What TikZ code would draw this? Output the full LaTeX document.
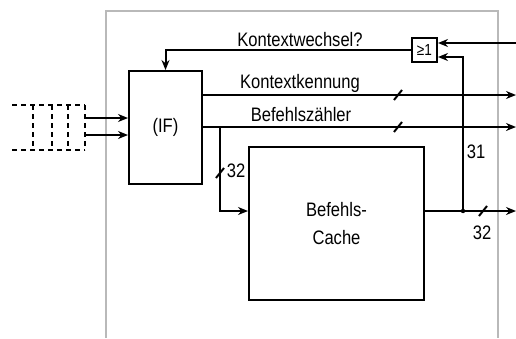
\documentclass[tikz,border=0pt]{standalone}
\usepackage{fontspec}
\setmainfont{Liberation Sans}[FakeStretch=0.85]
\usetikzlibrary{arrows.meta,calc}

\begin{document}
\begin{tikzpicture}[x=1pt,y=-1pt,>={Stealth[length=10pt,width=8pt]},
  every node/.style={align=center,font=\fontsize{19.5}{23}\selectfont},
  wire/.style={line width=2pt},
  blk/.style={draw,line width=2pt,inner sep=0pt}]
  \useasboundingbox (0,0) rectangle (516,338);
  % frame of the unit
  \draw[gray!55,line width=2pt] (106,338) -- (106,11) -- (498,11) -- (498,338);
  % blocks
  \node[blk,minimum width=73pt,minimum height=113pt] (ifu) at (165.5,127.5) {(IF)};
  \node[blk,minimum width=175pt,minimum height=153pt] (cache) at (336.5,223.5) {Befehls-\\[5pt]Cache};
  \node[blk,minimum width=25pt,minimum height=24pt,font=\fontsize{16}{18}\selectfont] (gate) at (424.5,50) {≥1};
  % queue of contexts
  \draw[wire,dash pattern=on 5pt off 4pt] (12,105) -- (85,105) (12,150) -- (85,150);
  \foreach \x in {33,52,68,85}
    \draw[wire,dash pattern=on 5pt off 4pt] (\x,105) -- (\x,150);
  \coordinate (q1) at (85,118);
  \coordinate (q2) at (85,135);
  \draw[wire,->] (q1) -- (q1 -| ifu.west);
  \draw[wire,->] (q2) -- (q2 -| ifu.west);
  % outputs of IF
  \coordinate (kkout) at (516,95);
  \coordinate (bzout) at (516,127);
  \coordinate (br) at (220,127);
  \draw[wire,->] (kkout -| ifu.east) -- (kkout);
  \draw[wire,->] (bzout -| ifu.east) -- (bzout);
  \draw[wire,->] (br) |- (cache.west |- 0,211);
  % cache output and feedback
  \coordinate (cout) at (516,211);
  \coordinate (jn) at (463,211);
  \coordinate (ctxin) at (516,43);
  \draw[wire,->] (cout -| cache.east) -- (cout);
  \fill (jn) circle (2.2pt);
  \draw[wire,->] (jn) |- (gate.east |- 0,57);
  \draw[wire,->] (ctxin) -- (ctxin -| gate.east);
  \draw[wire,->] (gate.west) -| (ifu.north);
  % bus widths
  \draw[wire] (394,100) -- (402,90);
  \draw[wire] (394,132) -- (402,122);
  \draw[wire] (216,178) -- (224,168);
  \draw[wire] (479,216) -- (487,206);
  % labels
  \node (lkw) at (300,40) {Kontextwechsel?};
  \node (lkk) at (300,83.5) {Kontextkennung};
  \node (lbz) at (301,114.5) {Befehlszähler};
  \node (lb32) at (236,171) {32};
  \node (l31) at (476,152) {31};
  \node (lc32) at (482,233) {32};
\end{tikzpicture}
\end{document}
